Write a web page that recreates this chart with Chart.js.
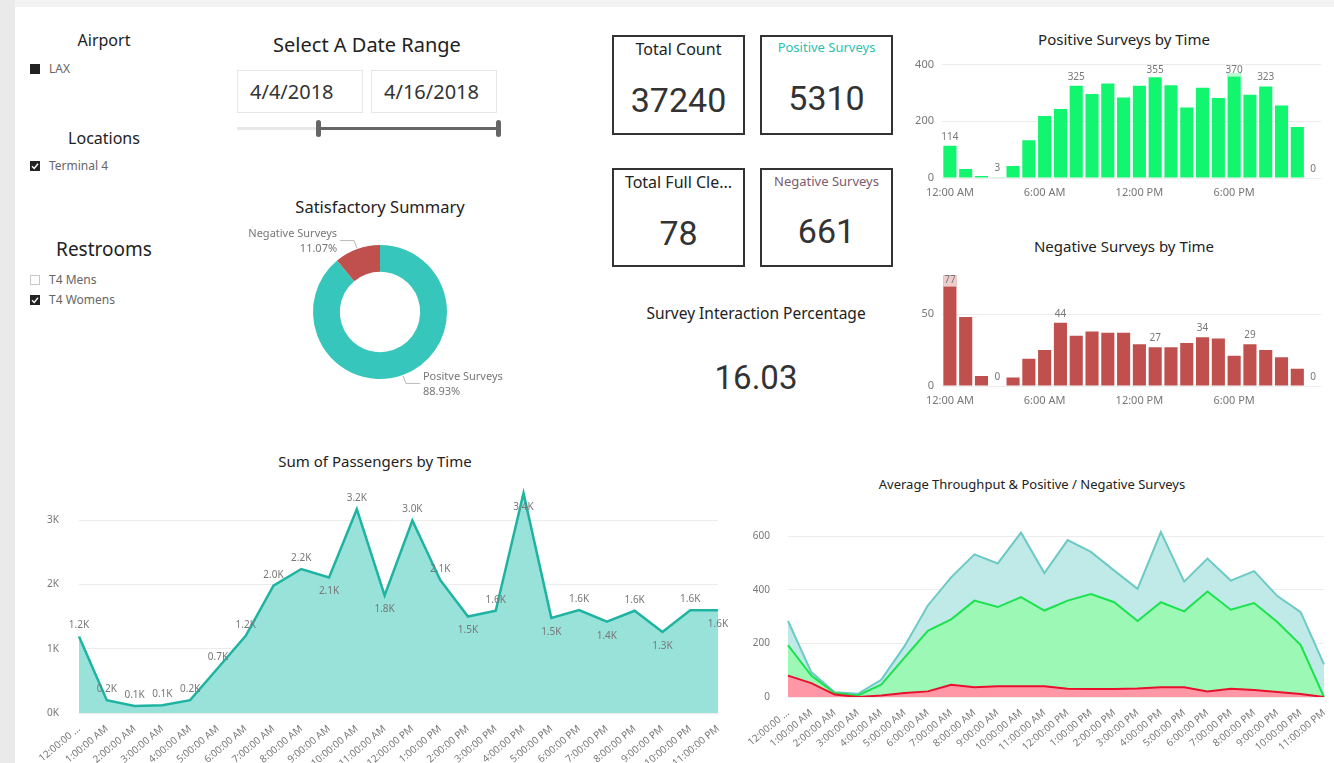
<!DOCTYPE html>
<html>
<head>
<meta charset="utf-8">
<title>LAX Terminal 4 Restroom Surveys</title>
<script src="https://cdn.jsdelivr.net/npm/chart.js"></script>
<style>
  html, body { margin: 0; padding: 0; }
  body {
    width: 1334px; height: 763px; position: relative; overflow: hidden;
    background: #fff; color: #222;
    font-family: 'Segoe UI', 'Noto Sans', sans-serif;
  }
  .abs { position: absolute; }
  .txt { position: absolute; white-space: nowrap; line-height: 1; }
  .ctr { text-align: center; }
  .item { font-size: 12px; color: #666; }
  .box { position: absolute; width: 10px; height: 10px; box-sizing: border-box; }
  .box.on { background: #222; }
  .box.off { border: 1px solid #c8c8c8; background: #fff; }
  .date { position: absolute; top: 70px; width: 126px; height: 43px; box-sizing: border-box;
          border: 1px solid #e6e6e6; font-size: 20px; line-height: 41px; padding-left: 12px; color: #333; }
  .card { position: absolute; width: 133px; height: 100px; box-sizing: border-box; border: 2px solid #333; }
  .kpi { font-family: Roboto, sans-serif; font-size: 34px; color: #333; }
  .chart { position: absolute; }
</style>
</head>
<body>
  <div class="abs" style="left:0;top:0;width:1334px;height:7px;background:#f3f3f3"></div>
  <div class="abs" style="left:0;top:0;width:15px;height:763px;background:#eaeaea"></div>

  <!-- slicers -->
  <div class="txt ctr" style="left:30px;width:148px;top:32px;font-size:16px">Airport</div>
  <div class="box on" style="left:30px;top:64px"></div>
  <div class="txt item" style="left:49px;top:63px">LAX</div>

  <div class="txt ctr" style="left:30px;width:148px;top:130px;font-size:16px">Locations</div>
  <svg class="box on" style="left:30px;top:161px" viewBox="0 0 10 10"><path d="M2 5.2 L4.2 7.4 L8 2.8" stroke="#fff" stroke-width="1.4" fill="none"/></svg>
  <div class="txt item" style="left:49px;top:160px">Terminal 4</div>

  <div class="txt ctr" style="left:30px;width:148px;top:240px;font-size:19px">Restrooms</div>
  <div class="box off" style="left:30px;top:275px"></div>
  <div class="txt item" style="left:49px;top:274px">T4 Mens</div>
  <svg class="box on" style="left:30px;top:295px" viewBox="0 0 10 10"><path d="M2 5.2 L4.2 7.4 L8 2.8" stroke="#fff" stroke-width="1.4" fill="none"/></svg>
  <div class="txt item" style="left:49px;top:294px">T4 Womens</div>

  <!-- date range -->
  <div class="txt ctr" style="left:237px;width:260px;top:35px;font-size:20px">Select A Date Range</div>
  <div class="date" style="left:237px">4/4/2018</div>
  <div class="date" style="left:371px">4/16/2018</div>
  <div class="abs" style="left:237px;top:127px;width:261px;height:3px;background:#e8e8e8"></div>
  <div class="abs" style="left:318px;top:127px;width:180px;height:3px;background:#666"></div>
  <div class="abs" style="left:316px;top:120px;width:5px;height:17px;border-radius:2.5px;background:#666"></div>
  <div class="abs" style="left:496px;top:120px;width:5px;height:17px;border-radius:2.5px;background:#666"></div>

  <!-- donut -->
  <div class="txt ctr" style="left:280px;width:200px;top:199px;font-size:16.5px">Satisfactory Summary</div>
  <div class="chart" style="left:230px;top:222px;width:300px;height:190px"><canvas id="summaryChart"></canvas></div>

  <!-- cards -->
  <div class="card" style="left:612px;top:35px"></div>
  <div class="card" style="left:760px;top:35px"></div>
  <div class="card" style="left:612px;top:168px;height:99px"></div>
  <div class="card" style="left:760px;top:168px;height:99px"></div>
  <div class="txt ctr" style="left:612px;width:133px;top:41px;font-size:16px">Total Count</div>
  <div class="txt ctr kpi" style="left:612px;width:133px;top:83px">37240</div>
  <div class="txt ctr" style="left:760px;width:133px;top:40.5px;font-size:13px;color:#2ebfb2">Positive Surveys</div>
  <div class="txt ctr kpi" style="left:760px;width:133px;top:81px">5310</div>
  <div class="txt ctr" style="left:612px;width:133px;top:174px;font-size:16px">Total Full Cle...</div>
  <div class="txt ctr kpi" style="left:612px;width:133px;top:216px">78</div>
  <div class="txt ctr" style="left:760px;width:133px;top:174.5px;font-size:13px;color:#7d5a6b">Negative Surveys</div>
  <div class="txt ctr kpi" style="left:760px;width:133px;top:214px">661</div>

  <div class="txt ctr" style="left:606px;width:300px;top:306px;font-size:15.5px">Survey Interaction Percentage</div>
  <div class="txt ctr kpi" style="left:606px;width:300px;top:361px;font-size:33px">16.03</div>

  <!-- by-hour bars -->
  <div class="txt ctr" style="left:974px;width:300px;top:31.5px;font-size:15px">Positive Surveys by Time</div>
  <div class="chart" style="left:905px;top:50px;width:426px;height:149px"><canvas id="posChart"></canvas></div>
  <div class="txt ctr" style="left:974px;width:300px;top:238.5px;font-size:15px">Negative Surveys by Time</div>
  <div class="chart" style="left:905px;top:260px;width:426px;height:147px"><canvas id="negChart"></canvas></div>

  <!-- bottom area charts -->
  <div class="txt ctr" style="left:225px;width:300px;top:453.5px;font-size:15px">Sum of Passengers by Time</div>
  <div class="chart" style="left:30px;top:462px;width:700px;height:301px"><canvas id="paxChart"></canvas></div>
  <div class="txt ctr" style="left:832px;width:400px;top:477.5px;font-size:13px">Average Throughput &amp; Positive / Negative Surveys</div>
  <div class="chart" style="left:740px;top:499px;width:594px;height:264px"><canvas id="avgChart"></canvas></div>

<script>
// ---- data ----
const hourLabels = [
  "12:00:00 ...", "1:00:00 AM", "2:00:00 AM", "3:00:00 AM", "4:00:00 AM", "5:00:00 AM",
  "6:00:00 AM", "7:00:00 AM", "8:00:00 AM", "9:00:00 AM", "10:00:00 AM", "11:00:00 AM",
  "12:00:00 PM", "1:00:00 PM", "2:00:00 PM", "3:00:00 PM", "4:00:00 PM", "5:00:00 PM",
  "6:00:00 PM", "7:00:00 PM", "8:00:00 PM", "9:00:00 PM", "10:00:00 PM", "11:00:00 PM"
];
const hourShort = [
  "12:00 AM", "1:00 AM", "2:00 AM", "3:00 AM", "4:00 AM", "5:00 AM",
  "6:00 AM", "7:00 AM", "8:00 AM", "9:00 AM", "10:00 AM", "11:00 AM",
  "12:00 PM", "1:00 PM", "2:00 PM", "3:00 PM", "4:00 PM", "5:00 PM",
  "6:00 PM", "7:00 PM", "8:00 PM", "9:00 PM", "10:00 PM", "11:00 PM"
];

const positiveByHour = [114, 32, 7, 3, 42, 133, 219, 243, 325, 296, 333, 284,
                        325, 355, 327, 249, 318, 282, 370, 294, 323, 256, 180, 0];
const negativeByHour = [77, 48, 7, 0, 6, 19, 25, 44, 35, 38, 37, 37,
                        29, 27, 27, 30, 34, 33, 21, 29, 25, 20, 12, 0];
const posLabelIdx = [0, 3, 8, 13, 18, 20, 23];
const negLabelIdx = [0, 3, 7, 13, 16, 19, 23];
const posTicks = [0, 200, 400];
const negTicks = [0, 50];

const passengersByHour = [1190, 200, 110, 120, 200, 700, 1200, 1980, 2240, 2110, 3170, 1830,
                          2995, 2070, 1500, 1590, 3420, 1480, 1600, 1420, 1590, 1260, 1600, 1600];
const paxTicks = [0, 1000, 2000, 3000];

const throughputAvg = [284, 93, 18, 12, 64, 190, 342, 447, 533, 499, 614, 463,
                       586, 542, 472, 404, 616, 431, 517, 435, 470, 377, 317, 122];
const positiveAvg   = [194, 80, 15, 6, 46, 147, 247, 290, 360, 336, 373, 323,
                       360, 385, 354, 284, 354, 320, 394, 326, 351, 280, 194, 0];
const negativeAvg   = [80, 52, 9, 0, 6, 15, 21, 46, 36, 40, 40, 40,
                       31, 30, 30, 32, 36, 36, 21, 31, 26, 19, 11, 0];
const avgTicks = [0, 200, 400, 600];

const summaryLabels = ["Positve Surveys", "Negative Surveys"];
const summaryValues = [88.93, 11.07];

// ---- shared look ----
Chart.defaults.font.family = "'Segoe UI', 'Noto Sans', sans-serif";
Chart.defaults.font.size = 11;
Chart.defaults.color = '#777';
Chart.defaults.animation = false;
Chart.defaults.responsive = true;
Chart.defaults.maintainAspectRatio = false;
Chart.defaults.plugins.legend.display = false;
Chart.defaults.plugins.tooltip.enabled = false;

const GRID = '#ececec';
const fixedTicks = list => s => { s.ticks = list.map(v => ({ value: v })); };

// value labels over bars / points (config kept in the closure, not in chart options)
function valueLabels(cfg) {
  return {
    id: 'valueLabels',
    afterDatasetsDraw(chart) {
      const ctx = chart.ctx;
      const top = chart.chartArea.top;
      const meta = chart.getDatasetMeta(0);
      const data = chart.data.datasets[0].data;
      ctx.save();
      ctx.font = "10px 'Segoe UI', 'Noto Sans', sans-serif";
      ctx.textAlign = 'center';
      meta.data.forEach((el, i) => {
        if (cfg.indices && !cfg.indices.includes(i)) return;
        let below = cfg.below ? cfg.below(i, data) : false;
        const text = cfg.format ? cfg.format(data[i]) : String(data[i]);
        let y = el.y - (cfg.gap || 4);
        if (!below && y - 11 < top) {
          if (cfg.flip) {
            below = true;
          } else {
            // no room above: keep the label inside, on a light wash over the bar
            y = top + 11;
            if (el.width && el.y < y) {
              ctx.fillStyle = 'rgba(255,255,255,0.72)';
              ctx.fillRect(el.x - el.width / 2, top, el.width, y - top + 1);
            }
          }
        }
        ctx.fillStyle = '#777';
        ctx.textBaseline = below ? 'top' : 'bottom';
        ctx.fillText(text, el.x, below ? el.y + 9 : y);
      });
      ctx.restore();
    }
  };
}

// ---- positive / negative bars ----
function barChart(id, values, color, max, ticks, idx) {
  return new Chart(document.getElementById(id), {
    type: 'bar',
    data: {
      labels: hourShort,
      datasets: [{ data: values, backgroundColor: color, barPercentage: 0.83, categoryPercentage: 1 }]
    },
    options: {
      layout: { padding: { top: 0, right: 10 } },
      scales: {
        x: {
          grid: { display: false }, border: { display: false },
          ticks: { autoSkip: false, maxRotation: 0, padding: 0,
                   callback: (v, i) => (i % 6 === 0 ? hourShort[i] : '') },
          afterFit: s => { s.height = 21; }
        },
        y: {
          min: 0, max: max,
          grid: { color: GRID, drawTicks: false }, border: { display: false },
          ticks: { padding: 8 },
          afterBuildTicks: fixedTicks(ticks),
          afterFit: s => { s.width = 37; }
        }
      }
    },
    plugins: [valueLabels({ indices: idx })]
  });
}
barChart('posChart', positiveByHour, '#12f56f', 400, posTicks, posLabelIdx);
barChart('negChart', negativeByHour, '#c0504d', 77.5, negTicks, negLabelIdx);

// ---- donut ----
const donutLabels = {
  id: 'donutLabels',
  afterDatasetsDraw(chart) {
    const ctx = chart.ctx;
    const arcs = chart.getDatasetMeta(0).data;
    ctx.save();
    ctx.strokeStyle = '#bbb';
    ctx.lineWidth = 1;
    ctx.fillStyle = '#777';
    ctx.font = "11px 'Segoe UI', 'Noto Sans', sans-serif";
    arcs.forEach((arc, i) => {
      const a = (arc.startAngle + arc.endAngle) / 2;
      const r = arc.outerRadius;
      const x0 = arc.x + Math.cos(a) * (r + 1), y0 = arc.y + Math.sin(a) * (r + 1);
      const x1 = arc.x + Math.cos(a) * (r + 9), y1 = arc.y + Math.sin(a) * (r + 9);
      const left = Math.cos(a) < 0;
      const x2 = x1 + (left ? -14 : 14);
      ctx.beginPath();
      ctx.moveTo(x0, y0); ctx.lineTo(x1, y1); ctx.lineTo(x2, y1);
      ctx.stroke();
      ctx.textAlign = left ? 'right' : 'left';
      ctx.textBaseline = 'middle';
      const tx = x2 + (left ? -3 : 3);
      ctx.fillText(summaryLabels[i], tx, y1 - 7);
      ctx.fillText(summaryValues[i].toFixed(2) + '%', tx, y1 + 8);
    });
    ctx.restore();
  }
};
new Chart(document.getElementById('summaryChart'), {
  type: 'doughnut',
  data: {
    labels: summaryLabels,
    datasets: [{ data: summaryValues, backgroundColor: ['#37c6bb', '#c0504d'], borderWidth: 0 }]
  },
  options: { cutout: '60%', layout: { padding: { top: 23, bottom: 33 } } },
  plugins: [donutLabels]
});

// ---- passengers area ----
const rotatedX = {
  grid: { display: false }, border: { display: false },
  ticks: { autoSkip: false, minRotation: 40, maxRotation: 40, padding: 2, font: { size: 10 } }
};
new Chart(document.getElementById('paxChart'), {
  type: 'line',
  data: {
    labels: hourLabels,
    datasets: [{
      data: passengersByHour, borderColor: '#1fb3a2', backgroundColor: '#98e2da',
      borderWidth: 2.5, fill: 'origin', pointRadius: 0, tension: 0
    }]
  },
  options: {
    layout: { padding: { top: 0, right: 12 } },
    scales: {
      x: Object.assign({}, rotatedX, { afterFit: s => { s.height = 50; } }),
      y: {
        min: 0, max: 3500,
        grid: { color: GRID, drawTicks: false }, border: { display: false },
        ticks: { padding: 20, font: { size: 10 }, callback: v => v / 1000 + 'K' },
        afterBuildTicks: fixedTicks(paxTicks),
        afterFit: s => { s.width = 49; }
      }
    }
  },
  plugins: [valueLabels({
    gap: 6,
    flip: true,
    format: v => (v / 1000).toFixed(1) + 'K',
    below: (i, d) => {
      if (d[i] < 500) return false;
      if (i === d.length - 1) return true;
      return i > 0 && d[i] < d[i - 1] && d[i] < d[i + 1];
    }
  })]
});

// ---- average throughput vs surveys ----
new Chart(document.getElementById('avgChart'), {
  type: 'line',
  data: {
    labels: hourLabels,
    datasets: [
      { data: negativeAvg, borderColor: '#e8112d', backgroundColor: '#ff97a7', fill: 'origin' },
      { data: positiveAvg, borderColor: '#1be24d', backgroundColor: '#9cf9b5', fill: 'origin' },
      { data: throughputAvg, borderColor: '#6ccac5', backgroundColor: '#c0eae8', fill: 'origin' }
    ]
  },
  options: {
    layout: { padding: { top: 0, right: 10 } },
    elements: { line: { borderWidth: 2, tension: 0 }, point: { radius: 0 } },
    scales: {
      x: Object.assign({}, rotatedX, { afterFit: s => { s.height = 66; } }),
      y: {
        min: 0, max: 650,
        grid: { color: GRID, drawTicks: false }, border: { display: false },
        ticks: { padding: 18, font: { size: 10 } },
        afterBuildTicks: fixedTicks(avgTicks),
        afterFit: s => { s.width = 48; }
      }
    }
  }
});
</script>
</body>
</html>
